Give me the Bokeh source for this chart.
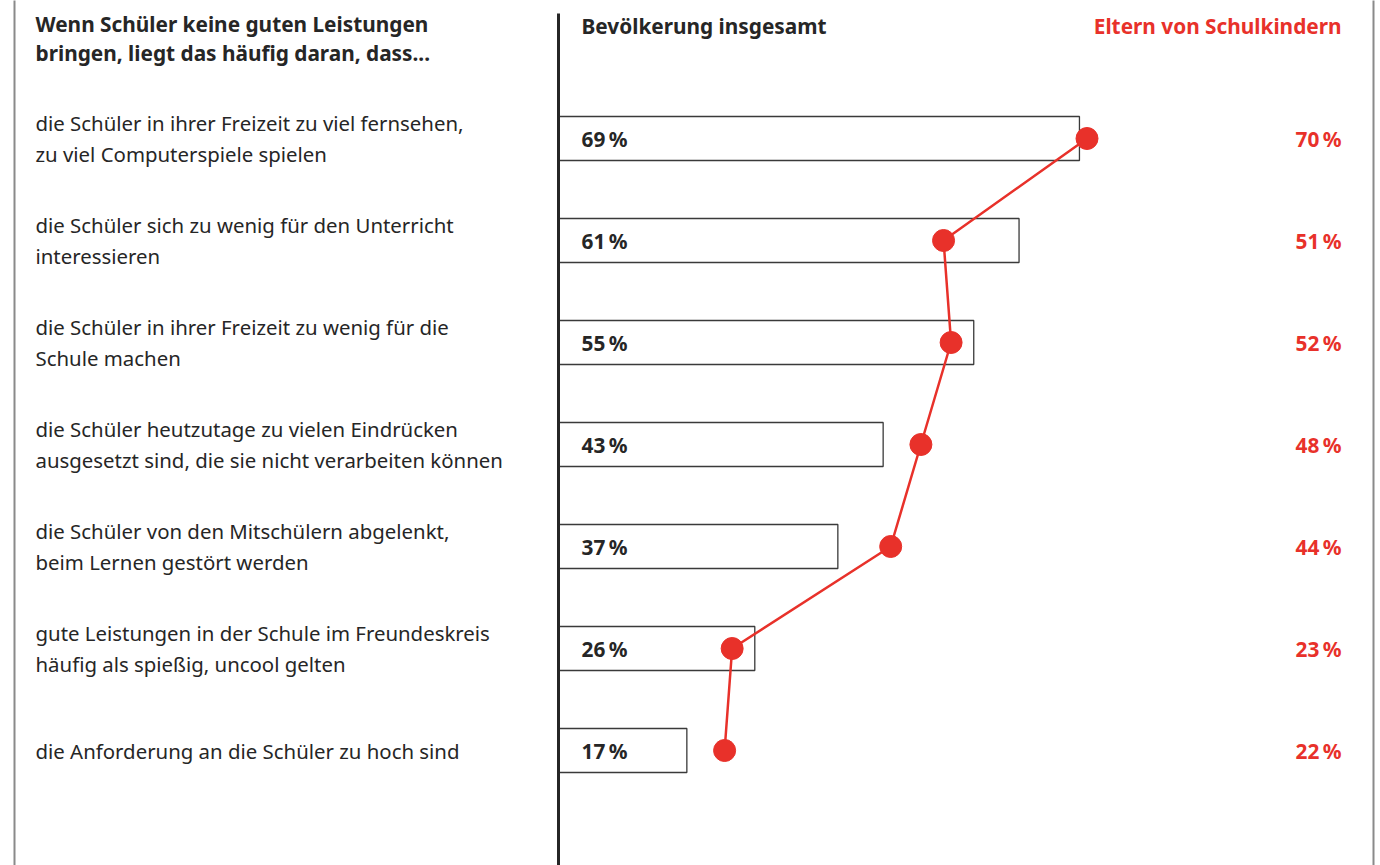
from bokeh.plotting import figure
from bokeh.models import Range1d
from bokeh.core.properties import value
from bokeh.embed import file_html
from bokeh.resources import INLINE

statements = [
    "die Schüler in ihrer Freizeit zu viel fernsehen,\nzu viel Computerspiele spielen",
    "die Schüler sich zu wenig für den Unterricht\ninteressieren",
    "die Schüler in ihrer Freizeit zu wenig für die\nSchule machen",
    "die Schüler heutzutage zu vielen Eindrücken\nausgesetzt sind, die sie nicht verarbeiten können",
    "die Schüler von den Mitschülern abgelenkt,\nbeim Lernen gestört werden",
    "gute Leistungen in der Schule im Freundeskreis\nhäufig als spießig, uncool gelten",
    "die Anforderung an die Schüler zu hoch sind",
]
bevoelkerung = [69, 61, 55, 43, 37, 26, 17]
eltern = [70, 51, 52, 48, 44, 23, 22]
title_text = "Wenn Schüler keine guten Leistungen\nbringen, liegt das häufig daran, dass..."
series_names = ["Bevölkerung insgesamt", "Eltern von Schulkindern"]

FONT = "Noto Sans"
RED = "#e8312a"
DARK = "#262626"
FS = "20.4px"
FSB = "20.8px"

W, H = 1380, 865
OFF = 0.0
PX0 = 558.0      # page px of value 0
SCALE = 7.55     # page px per percent
ROW0 = 138.0     # page px of first row centre
ROWSTEP = 102.0

def vx(px):
    return (px - PX0) / SCALE

def vy(py):
    return (py - ROW0) / ROWSTEP

p = figure(width=W, height=H, output_backend="svg", toolbar_location=None,
           x_range=Range1d(vx(OFF), vx(OFF + W)), y_range=Range1d(vy(OFF + H), vy(OFF)),
           min_border=0)
p.axis.visible = False
p.grid.visible = False
p.outline_line_color = None
p.background_fill_color = "white"

rows = list(range(len(statements)))

# frame border lines
p.segment(x0=[vx(14), vx(1373)], y0=[vy(-5), vy(-5)], x1=[vx(14), vx(1373)], y1=[vy(870), vy(870)],
          line_color="#8a8a8a", line_width=2)

# bars
p.hbar(y=rows, left=0, right=bevoelkerung, height=44 / ROWSTEP,
       fill_color="white", line_color="#3a3a3a", line_width=1.3)

# central axis line
p.segment(x0=[0], y0=[vy(13)], x1=[0], y1=[vy(870)], line_color=DARK, line_width=3)

# parents line
p.line(x=eltern, y=rows, line_color=RED, line_width=2.5)
p.scatter(x=eltern, y=rows, size=22, fill_color=RED, line_color=RED)

# headers
p.text(x=[vx(35)], y=[vy(38)], text=[title_text], text_font=value(FONT),
       text_font_style="bold", text_font_size=FSB, text_color=DARK,
       text_baseline="middle", text_align="left", text_line_height=1.05)
p.text(x=[vx(581)], y=[vy(25)], text=[series_names[0]], text_font=value(FONT),
       text_font_style="bold", text_font_size=FSB, text_color=DARK,
       text_baseline="middle", text_align="left")
p.text(x=[vx(1341)], y=[vy(25)], text=[series_names[1]], text_font=value(FONT),
       text_font_style="bold", text_font_size=FSB, text_color=RED,
       text_baseline="middle", text_align="right")

# statements
p.text(x=[vx(35)] * len(rows), y=rows, text=statements, text_font=value(FONT),
       text_font_size=FS, text_color=DARK, text_baseline="middle",
       text_align="left", text_line_height=1.1)

# value labels
p.text(x=[vx(581)] * len(rows), y=rows, text=[f"{v}\u2009%" for v in bevoelkerung],
       text_font=value(FONT), text_font_style="bold", text_font_size=FSB,
       text_color=DARK, text_baseline="middle", text_align="left")
p.text(x=[vx(1341)] * len(rows), y=rows, text=[f"{v}\u2009%" for v in eltern],
       text_font=value(FONT), text_font_style="bold", text_font_size=FSB,
       text_color=RED, text_baseline="middle", text_align="right")

open("out.html", "w").write(file_html(p, INLINE))
